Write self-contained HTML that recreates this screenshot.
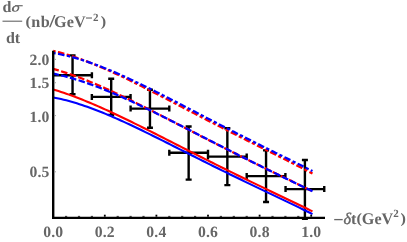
<!DOCTYPE html>
<html><head><meta charset="utf-8"><style>
html,body{margin:0;padding:0;background:#fff;}
body{width:407px;height:242px;position:relative;overflow:hidden;font-family:"Liberation Serif",serif;}
.t{position:absolute;font-family:"Liberation Serif",serif;font-weight:bold;font-size:15.7px;line-height:17px;color:#666;white-space:nowrap;}
#tx{text-rendering:geometricPrecision;position:absolute;left:0;top:0;width:407px;height:242px;will-change:transform;}
.c{text-align:center} .r{text-align:right}
sup{font-size:11px;line-height:0;vertical-align:5.8px;margin-left:-0.6px;margin-right:2.2px;}
.sl{display:inline-block;margin:0 -0.5px 0 0;transform:scale(1.35,1.12);transform-origin:50% 60%;}
.n{letter-spacing:0.5px}
.mn{color:transparent;display:inline-block;transform:scaleX(1.3);transform-origin:0 50%;margin-right:1.2px}
.mx{color:transparent;display:inline-block;transform:scaleX(1.2);transform-origin:100% 50%;}
.rp{display:inline-block;transform:translateY(-0.7px) scaleY(0.88);transform-origin:50% 85%;}
.g{display:inline-block;transform:scaleX(1.3);transform-origin:0 50%;font-weight:normal;margin-left:0.6px}
i{font-weight:normal;-webkit-text-stroke:0.4px #666}
svg{position:absolute;left:0;top:0}
</style></head><body>
<svg width="407" height="242" viewBox="0 0 407 242">
<path d="M72.55,55.40 V94.30 M69.55,55.40 h6 M69.55,94.30 h6 M53.50,75.20 H91.90 M91.90,72.20 v6 M111.20,78.80 V114.90 M108.20,78.80 h6 M108.20,114.90 h6 M91.85,96.90 H130.55 M130.55,93.90 v6 M91.85,93.90 v6 M149.95,89.70 V127.80 M146.95,89.70 h6 M146.95,127.80 h6 M130.60,108.60 H169.30 M169.30,105.60 v6 M130.60,105.60 v6 M188.65,126.50 V179.60 M185.65,126.50 h6 M185.65,179.60 h6 M169.30,152.80 H208.00 M208.00,149.80 v6 M169.30,149.80 v6 M227.35,128.20 V185.10 M224.35,128.20 h6 M224.35,185.10 h6 M208.00,156.60 H246.70 M246.70,153.60 v6 M208.00,153.60 v6 M266.05,150.40 V202.00 M263.05,150.40 h6 M263.05,202.00 h6 M246.70,176.10 H285.40 M285.40,173.10 v6 M246.70,173.10 v6 M304.90,160.00 V218.70 M301.90,160.00 h6 M301.90,218.70 h6 M285.55,189.10 H324.25 M324.25,186.10 v6 M285.55,186.10 v6" fill="none" stroke="#000" stroke-width="2.4"/>
<path d="M53.20,97.44 L55.82,97.94 L58.44,98.48 L61.06,99.06 L63.68,99.68 L66.30,100.34 L68.92,101.03 L71.53,101.76 L74.15,102.52 L76.77,103.32 L79.39,104.14 L82.01,105.00 L84.63,105.88 L87.25,106.80 L89.87,107.74 L92.49,108.70 L95.11,109.69 L97.73,110.70 L100.35,111.74 L102.96,112.79 L105.58,113.87 L108.20,114.97 L110.82,116.08 L113.44,117.21 L116.06,118.36 L118.68,119.53 L121.30,120.70 L123.92,121.90 L126.54,123.10 L129.16,124.32 L131.78,125.55 L134.39,126.79 L137.01,128.04 L139.63,129.30 L142.25,130.56 L144.87,131.84 L147.49,133.12 L150.11,134.41 L152.73,135.70 L155.35,137.00 L157.97,138.31 L160.59,139.61 L163.21,140.92 L165.83,142.24 L168.44,143.56 L171.06,144.87 L173.68,146.19 L176.30,147.52 L178.92,148.84 L181.54,150.16 L184.16,151.48 L186.78,152.80 L189.40,154.13 L192.02,155.45 L194.64,156.76 L197.26,158.08 L199.87,159.40 L202.49,160.71 L205.11,162.02 L207.73,163.33 L210.35,164.63 L212.97,165.94 L215.59,167.24 L218.21,168.53 L220.83,169.83 L223.45,171.12 L226.07,172.40 L228.69,173.69 L231.31,174.97 L233.92,176.25 L236.54,177.52 L239.16,178.79 L241.78,180.06 L244.40,181.33 L247.02,182.59 L249.64,183.85 L252.26,185.11 L254.88,186.37 L257.50,187.62 L260.12,188.87 L262.74,190.12 L265.35,191.37 L267.97,192.62 L270.59,193.87 L273.21,195.12 L275.83,196.36 L278.45,197.61 L281.07,198.86 L283.69,200.11 L286.31,201.36 L288.93,202.62 L291.55,203.88 L294.17,205.14 L296.78,206.40 L299.40,207.67 L302.02,208.95 L304.64,210.23 L307.26,211.51 L309.88,212.80 L312.50,214.10" fill="none" stroke="#0000ff" stroke-width="2.1"/>
<path d="M53.20,89.49 L55.82,90.28 L58.44,91.09 L61.06,91.93 L63.68,92.80 L66.30,93.70 L68.92,94.62 L71.53,95.56 L74.15,96.53 L76.77,97.51 L79.39,98.53 L82.01,99.56 L84.63,100.61 L87.25,101.68 L89.87,102.76 L92.49,103.87 L95.11,104.99 L97.73,106.13 L100.35,107.28 L102.96,108.45 L105.58,109.63 L108.20,110.82 L110.82,112.02 L113.44,113.24 L116.06,114.47 L118.68,115.71 L121.30,116.96 L123.92,118.21 L126.54,119.48 L129.16,120.75 L131.78,122.03 L134.39,123.32 L137.01,124.61 L139.63,125.91 L142.25,127.22 L144.87,128.53 L147.49,129.84 L150.11,131.16 L152.73,132.48 L155.35,133.81 L157.97,135.13 L160.59,136.46 L163.21,137.79 L165.83,139.13 L168.44,140.46 L171.06,141.79 L173.68,143.13 L176.30,144.46 L178.92,145.80 L181.54,147.13 L184.16,148.47 L186.78,149.80 L189.40,151.13 L192.02,152.46 L194.64,153.79 L197.26,155.11 L199.87,156.44 L202.49,157.76 L205.11,159.08 L207.73,160.40 L210.35,161.71 L212.97,163.02 L215.59,164.33 L218.21,165.64 L220.83,166.94 L223.45,168.24 L226.07,169.54 L228.69,170.83 L231.31,172.12 L233.92,173.41 L236.54,174.70 L239.16,175.98 L241.78,177.26 L244.40,178.54 L247.02,179.81 L249.64,181.08 L252.26,182.35 L254.88,183.62 L257.50,184.88 L260.12,186.15 L262.74,187.41 L265.35,188.67 L267.97,189.92 L270.59,191.18 L273.21,192.43 L275.83,193.69 L278.45,194.94 L281.07,196.20 L283.69,197.45 L286.31,198.70 L288.93,199.96 L291.55,201.21 L294.17,202.47 L296.78,203.73 L299.40,204.99 L302.02,206.26 L304.64,207.52 L307.26,208.79 L309.88,210.07 L312.50,211.35" fill="none" stroke="#ff0000" stroke-width="2.1"/>
<path d="M53.20,68.94 L55.82,69.67 L58.44,70.44 L61.06,71.24 L63.68,72.06 L66.30,72.92 L68.92,73.80 L71.53,74.70 L74.15,75.64 L76.77,76.59 L79.39,77.57 L82.01,78.57 L84.63,79.59 L87.25,80.64 L89.87,81.70 L92.49,82.78 L95.11,83.89 L97.73,85.00 L100.35,86.14 L102.96,87.29 L105.58,88.46 L108.20,89.64 L110.82,90.83 L113.44,92.04 L116.06,93.26 L118.68,94.49 L121.30,95.73 L123.92,96.99 L126.54,98.25 L129.16,99.52 L131.78,100.80 L134.39,102.09 L137.01,103.39 L139.63,104.69 L142.25,106.00 L144.87,107.32 L147.49,108.64 L150.11,109.96 L152.73,111.29 L155.35,112.63 L157.97,113.97 L160.59,115.31 L163.21,116.65 L165.83,118.00 L168.44,119.34 L171.06,120.69 L173.68,122.04 L176.30,123.39 L178.92,124.75 L181.54,126.10 L184.16,127.45 L186.78,128.80 L189.40,130.15 L192.02,131.50 L194.64,132.85 L197.26,134.20 L199.87,135.54 L202.49,136.88 L205.11,138.23 L207.73,139.57 L210.35,140.90 L212.97,142.24 L215.59,143.57 L218.21,144.90 L220.83,146.23 L223.45,147.55 L226.07,148.87 L228.69,150.19 L231.31,151.51 L233.92,152.82 L236.54,154.13 L239.16,155.44 L241.78,156.74 L244.40,158.04 L247.02,159.34 L249.64,160.64 L252.26,161.93 L254.88,163.22 L257.50,164.51 L260.12,165.79 L262.74,167.08 L265.35,168.36 L267.97,169.64 L270.59,170.92 L273.21,172.19 L275.83,173.47 L278.45,174.74 L281.07,176.02 L283.69,177.29 L286.31,178.57 L288.93,179.84 L291.55,181.11 L294.17,182.39 L296.78,183.67 L299.40,184.94 L302.02,186.22 L304.64,187.51 L307.26,188.79 L309.88,190.08 L312.50,191.37" fill="none" stroke="#ff0000" stroke-width="2.25" stroke-dasharray="6.6,2.42" stroke-dashoffset="0.8"/>
<path d="M53.20,73.61 L55.82,74.16 L58.44,74.74 L61.06,75.36 L63.68,76.01 L66.30,76.69 L68.92,77.40 L71.53,78.14 L74.15,78.91 L76.77,79.71 L79.39,80.54 L82.01,81.39 L84.63,82.27 L87.25,83.18 L89.87,84.10 L92.49,85.05 L95.11,86.03 L97.73,87.02 L100.35,88.04 L102.96,89.07 L105.58,90.12 L108.20,91.20 L110.82,92.29 L113.44,93.39 L116.06,94.52 L118.68,95.65 L121.30,96.81 L123.92,97.97 L126.54,99.15 L129.16,100.35 L131.78,101.55 L134.39,102.77 L137.01,104.00 L139.63,105.24 L142.25,106.48 L144.87,107.74 L147.49,109.01 L150.11,110.28 L152.73,111.56 L155.35,112.85 L157.97,114.15 L160.59,115.45 L163.21,116.75 L165.83,118.07 L168.44,119.38 L171.06,120.70 L173.68,122.03 L176.30,123.36 L178.92,124.69 L181.54,126.02 L184.16,127.36 L186.78,128.69 L189.40,130.03 L192.02,131.37 L194.64,132.71 L197.26,134.05 L199.87,135.40 L202.49,136.74 L205.11,138.08 L207.73,139.42 L210.35,140.76 L212.97,142.10 L215.59,143.44 L218.21,144.78 L220.83,146.11 L223.45,147.44 L226.07,148.77 L228.69,150.10 L231.31,151.43 L233.92,152.75 L236.54,154.08 L239.16,155.40 L241.78,156.71 L244.40,158.03 L247.02,159.34 L249.64,160.65 L252.26,161.95 L254.88,163.25 L257.50,164.55 L260.12,165.85 L262.74,167.14 L265.35,168.43 L267.97,169.72 L270.59,171.01 L273.21,172.29 L275.83,173.57 L278.45,174.85 L281.07,176.12 L283.69,177.39 L286.31,178.66 L288.93,179.93 L291.55,181.20 L294.17,182.46 L296.78,183.73 L299.40,184.99 L302.02,186.25 L304.64,187.51 L307.26,188.77 L309.88,190.03 L312.50,191.29" fill="none" stroke="#0000ff" stroke-width="2.25" stroke-dasharray="6.6,2.42" stroke-dashoffset="0.8"/>
<path d="M53.20,50.89 L55.82,51.52 L58.44,52.18 L61.06,52.88 L63.68,53.61 L66.30,54.38 L68.92,55.18 L71.53,56.01 L74.15,56.87 L76.77,57.75 L79.39,58.67 L82.01,59.62 L84.63,60.58 L87.25,61.58 L89.87,62.60 L92.49,63.64 L95.11,64.70 L97.73,65.78 L100.35,66.89 L102.96,68.01 L105.58,69.15 L108.20,70.31 L110.82,71.48 L113.44,72.67 L116.06,73.88 L118.68,75.10 L121.30,76.33 L123.92,77.57 L126.54,78.83 L129.16,80.10 L131.78,81.37 L134.39,82.66 L137.01,83.96 L139.63,85.26 L142.25,86.57 L144.87,87.89 L147.49,89.22 L150.11,90.55 L152.73,91.88 L155.35,93.22 L157.97,94.57 L160.59,95.92 L163.21,97.27 L165.83,98.62 L168.44,99.98 L171.06,101.34 L173.68,102.70 L176.30,104.06 L178.92,105.43 L181.54,106.79 L184.16,108.15 L186.78,109.52 L189.40,110.88 L192.02,112.24 L194.64,113.60 L197.26,114.96 L199.87,116.32 L202.49,117.68 L205.11,119.03 L207.73,120.39 L210.35,121.74 L212.97,123.09 L215.59,124.43 L218.21,125.78 L220.83,127.12 L223.45,128.46 L226.07,129.80 L228.69,131.13 L231.31,132.46 L233.92,133.79 L236.54,135.12 L239.16,136.45 L241.78,137.77 L244.40,139.09 L247.02,140.41 L249.64,141.73 L252.26,143.04 L254.88,144.35 L257.50,145.67 L260.12,146.98 L262.74,148.29 L265.35,149.60 L267.97,150.91 L270.59,152.22 L273.21,153.53 L275.83,154.84 L278.45,156.15 L281.07,157.46 L283.69,158.78 L286.31,160.10 L288.93,161.42 L291.55,162.74 L294.17,164.07 L296.78,165.40 L299.40,166.73 L302.02,168.07 L304.64,169.42 L307.26,170.77 L309.88,172.13 L312.50,173.49" fill="none" stroke="#ff0000" stroke-width="2.25" stroke-dasharray="3.3,2.39,6.6,2.39" stroke-dashoffset="0.8"/>
<path d="M53.20,53.06 L55.82,53.49 L58.44,53.97 L61.06,54.49 L63.68,55.05 L66.30,55.64 L68.92,56.28 L71.53,56.95 L74.15,57.66 L76.77,58.40 L79.39,59.17 L82.01,59.98 L84.63,60.81 L87.25,61.68 L89.87,62.57 L92.49,63.50 L95.11,64.45 L97.73,65.42 L100.35,66.42 L102.96,67.44 L105.58,68.48 L108.20,69.55 L110.82,70.64 L113.44,71.74 L116.06,72.87 L118.68,74.01 L121.30,75.17 L123.92,76.35 L126.54,77.54 L129.16,78.74 L131.78,79.96 L134.39,81.19 L137.01,82.44 L139.63,83.69 L142.25,84.96 L144.87,86.24 L147.49,87.52 L150.11,88.82 L152.73,90.12 L155.35,91.43 L157.97,92.75 L160.59,94.07 L163.21,95.40 L165.83,96.74 L168.44,98.08 L171.06,99.42 L173.68,100.77 L176.30,102.12 L178.92,103.47 L181.54,104.82 L184.16,106.18 L186.78,107.54 L189.40,108.90 L192.02,110.26 L194.64,111.62 L197.26,112.98 L199.87,114.34 L202.49,115.70 L205.11,117.05 L207.73,118.41 L210.35,119.77 L212.97,121.12 L215.59,122.47 L218.21,123.82 L220.83,125.17 L223.45,126.52 L226.07,127.86 L228.69,129.20 L231.31,130.54 L233.92,131.87 L236.54,133.21 L239.16,134.54 L241.78,135.86 L244.40,137.19 L247.02,138.51 L249.64,139.83 L252.26,141.15 L254.88,142.46 L257.50,143.77 L260.12,145.08 L262.74,146.39 L265.35,147.69 L267.97,148.99 L270.59,150.29 L273.21,151.59 L275.83,152.89 L278.45,154.19 L281.07,155.48 L283.69,156.78 L286.31,158.07 L288.93,159.37 L291.55,160.66 L294.17,161.96 L296.78,163.26 L299.40,164.56 L302.02,165.86 L304.64,167.16 L307.26,168.47 L309.88,169.78 L312.50,171.09" fill="none" stroke="#0000ff" stroke-width="2.25" stroke-dasharray="3.3,2.39,6.6,2.39" stroke-dashoffset="0.8"/>
<path d="M53.2,50.8 V219.1 M52,217.9 H325" fill="none" stroke="#000" stroke-width="2.4"/>
<rect x="65.00" y="215.90" width="2.2" height="0.8" fill="#000"/>
<rect x="77.90" y="215.90" width="2.2" height="0.8" fill="#000"/>
<rect x="90.80" y="215.90" width="2.2" height="0.8" fill="#000"/>
<rect x="103.90" y="214.70" width="1.8" height="2.0" fill="#000"/>
<rect x="116.60" y="215.90" width="2.2" height="0.8" fill="#000"/>
<rect x="129.50" y="215.90" width="2.2" height="0.8" fill="#000"/>
<rect x="142.40" y="215.90" width="2.2" height="0.8" fill="#000"/>
<rect x="155.50" y="214.70" width="1.8" height="2.0" fill="#000"/>
<rect x="168.20" y="215.90" width="2.2" height="0.8" fill="#000"/>
<rect x="181.10" y="215.90" width="2.2" height="0.8" fill="#000"/>
<rect x="194.00" y="215.90" width="2.2" height="0.8" fill="#000"/>
<rect x="207.10" y="214.70" width="1.8" height="2.0" fill="#000"/>
<rect x="219.80" y="215.90" width="2.2" height="0.8" fill="#000"/>
<rect x="232.70" y="215.90" width="2.2" height="0.8" fill="#000"/>
<rect x="245.60" y="215.90" width="2.2" height="0.8" fill="#000"/>
<rect x="258.70" y="214.70" width="1.8" height="2.0" fill="#000"/>
<rect x="271.40" y="215.90" width="2.2" height="0.8" fill="#000"/>
<rect x="284.30" y="215.90" width="2.2" height="0.8" fill="#000"/>
<rect x="297.20" y="215.90" width="2.2" height="0.8" fill="#000"/>
<rect x="310.30" y="214.70" width="1.8" height="2.0" fill="#000"/>
<rect x="54.3" y="171.31" width="1.6" height="1" fill="#999"/>
<rect x="54.3" y="115.10" width="1.6" height="1" fill="#999"/>
<rect x="54.3" y="82.22" width="1.6" height="1" fill="#999"/>
<rect x="54.3" y="58.89" width="1.6" height="1" fill="#999"/>
<rect x="2.5" y="20.65" width="19.7" height="1.1" fill="#666"/>
<g fill="#666"><path fill-rule="evenodd" transform="translate(15.6,8.6) skewX(-14) translate(-15.6,-8.6)" d="M12.0,8.6 a3.6,3.2 0 1,0 7.2,0 a3.6,3.2 0 1,0 -7.2,0 Z M13.85,8.6 a1.9,2.45 0 1,0 3.8,0 a1.9,2.45 0 1,0 -3.8,0 Z"/><rect x="15" y="5.15" width="7.7" height="1.15"/></g>
<rect x="334.2" y="218.95" width="8.5" height="1.3" fill="#666"/>
<rect x="86" y="17.45" width="6" height="1.15" fill="#6c6c6c"/>
</svg>
<div id="tx">
<div class="t c" style="left:33.20px;top:223.6px;width:40px;letter-spacing:0.15px">0.0</div>
<div class="t c" style="left:84.80px;top:223.6px;width:40px;letter-spacing:0.15px">0.2</div>
<div class="t c" style="left:136.40px;top:223.6px;width:40px;letter-spacing:0.15px">0.4</div>
<div class="t c" style="left:188.00px;top:223.6px;width:40px;letter-spacing:0.15px">0.6</div>
<div class="t c" style="left:239.60px;top:223.6px;width:40px;letter-spacing:0.15px">0.8</div>
<div class="t c" style="left:291.20px;top:223.6px;width:40px;letter-spacing:0.15px">1.0</div>
<div class="t r" style="left:0px;top:52.49px;width:49.5px;letter-spacing:0.1px">2.0</div>
<div class="t r" style="left:0px;top:75.12px;width:49.5px;letter-spacing:0.1px">1.5</div>
<div class="t r" style="left:0px;top:108.70px;width:49.5px;letter-spacing:0.1px">1.0</div>
<div class="t r" style="left:0px;top:164.21px;width:49.5px;letter-spacing:0.1px">0.5</div>
<div class="t" style="left:2.5px;top:-0.7px;font-size:16px">d</div>
<div class="t" style="left:5.9px;top:30.2px;font-size:16px">dt</div>
<div class="t" style="left:25.6px;top:14.1px;font-size:16.2px;letter-spacing:0.15px"><span class="rp">(</span><span class="n">n</span>b<span class="sl">/</span>GeV<sup style="vertical-align:6.6px"><span class="mn">−</span>2</sup><span class="rp">)</span></div>
<div class="t" style="left:334.3px;top:210.7px;font-size:16.2px"><span class="mx">−</span><i>δ</i>t<span class="rp">(</span>GeV<sup style="vertical-align:6.3px;margin-left:0px;margin-right:1.6px">2</sup><span class="rp">)</span></div>
</div>
</body></html>
